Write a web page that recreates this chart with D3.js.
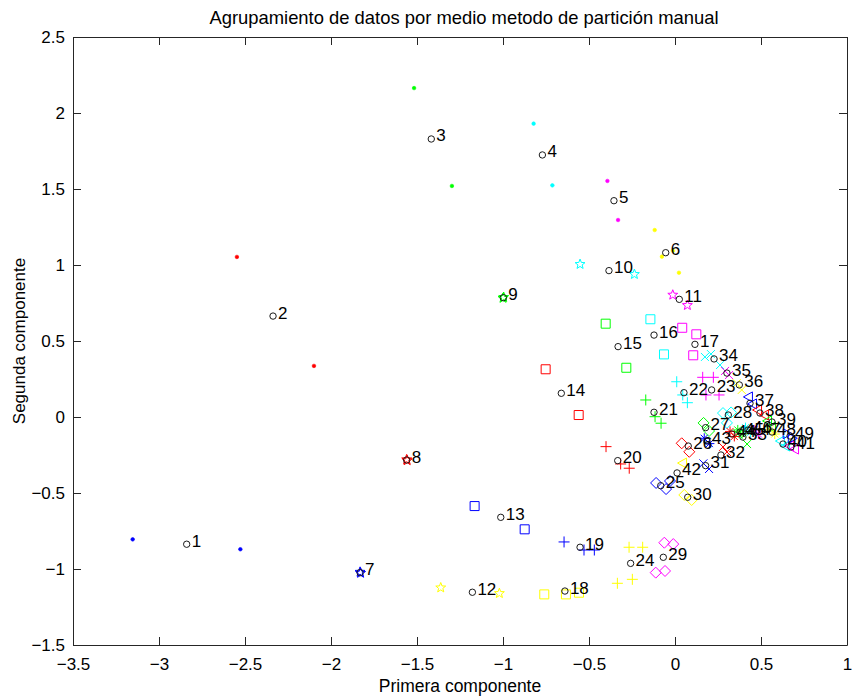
<!DOCTYPE html>
<html>
<head>
<meta charset="utf-8">
<script src="https://cdn.jsdelivr.net/npm/d3@7"></script>
<style>
  html, body { margin: 0; padding: 0; background: #fff; }
  svg { display: block; font-family: "Liberation Sans", Arial, Helvetica, sans-serif; }
</style>
</head>
<body>
<svg id="chart" width="852" height="700"></svg>
<script>
// ---- data -------------------------------------------------------------
const titleText = "Agrupamiento de datos por medio metodo de partición manual";
const xLabelText = "Primera componente";
const yLabelText = "Segunda componente";

const xTicks = [-3.5, -3, -2.5, -2, -1.5, -1, -0.5, 0, 0.5, 1];
const yTicks = [-1.5, -1, -0.5, 0, 0.5, 1, 1.5, 2, 2.5];

// group centres (black circles, numbered)
const groupIds = [1,2,3,4,5,6,7,8,9,10,11,12,13,14,15,16,17,18,19,20,21,22,23,24,25,
                  26,27,28,29,30,31,32,33,34,35,36,37,38,39,40,41,42,43,44,45,46,47,48,49];
const centreX = [-2.839,-2.337,-1.417,-0.771,-0.355,-0.054,-1.831,-1.560,-0.998,-0.384,
                 0.025,-1.178,-1.013,-0.661,-0.331,-0.122,0.116,-0.640,-0.552,-0.333,
                 -0.122,0.052,0.213,-0.258,-0.083,0.077,0.178,0.310,-0.068,0.074,
                 0.178,0.267,0.395,0.227,0.302,0.374,0.436,0.494,0.564,0.628,
                 0.674,0.012,0.186,0.331,0.378,0.424,0.471,0.564,0.669];
const centreY = [-0.837,0.664,1.829,1.724,1.423,1.081,-1.024,-0.283,0.785,0.963,
                 0.774,-1.153,-0.660,0.156,0.463,0.539,0.478,-1.145,-0.857,-0.287,
                 0.031,0.160,0.178,-0.963,-0.452,-0.191,-0.070,0.013,-0.923,-0.528,
                 -0.320,-0.250,-0.132,0.382,0.289,0.211,0.090,0.026,-0.033,-0.178,
                 -0.197,-0.368,-0.158,-0.112,-0.099,-0.086,-0.099,-0.099,-0.125];

// individual members: group id, first and second component
const memberGroup = [1,1, 2,2, 3,3, 4,4, 5,5, 6,6,6,6, 7,7, 8,8, 9,9, 10,10, 11,11, 12,12,
                     13,13, 14,14, 15,15, 16,16, 17,17,17, 18,18,18, 19,19,19, 20,20,20,
                     21,21,21, 22,22,22, 23,23,23,23, 24,24,24,24, 25,25,25, 26,26, 27,27,
                     28,28,28, 29,29,29,29, 30,30, 31,31, 32,32, 33,33, 34,34,34, 35,35,
                     36,36, 37,37, 38,38, 39,39, 40,40, 41,41, 42,
                     43,43, 44,44, 45,45, 46,46, 47,47, 48,48, 49,49];
const memberX = [-3.153,-2.527, -2.547,-2.099, -1.517,-1.297, -0.822,-0.713, -0.393,-0.331,
                 -0.118,-0.012,-0.076,0.023, -1.831,-1.828, -1.560,-1.557, -1.000,-0.996,
                 -0.552,-0.236, -0.013,0.072, -1.362,-1.021,
                 -1.165,-0.874, -0.752,-0.560, -0.403,-0.283, -0.143,-0.064,
                 0.042,0.124,0.106, -0.760,-0.634,-0.558, -0.645,-0.529,-0.469, -0.401,-0.316,-0.266,
                 -0.170,-0.116,-0.081, 0.010,0.045,0.072, 0.161,0.223,0.180,0.256,
                 -0.267,-0.188,-0.335,-0.248, -0.110,-0.052,-0.029, 0.039,0.083, 0.166,0.198,
                 0.279,0.326,0.302, -0.062,-0.010,-0.112,-0.058, 0.054,0.097, 0.165,0.198,
                 0.279,0.302, 0.366,0.419, 0.174,0.209,0.262, 0.291,0.314,
                 0.359,0.388, 0.424,0.448, 0.477,0.517, 0.535,0.558, 0.610,0.640, 0.663,0.692, 0.041,
                 0.170,0.200, 0.320,0.345, 0.365,0.390, 0.410,0.440, 0.460,0.485, 0.550,0.580, 0.655,0.685];
const memberY = [-0.805,-0.870, 1.053,0.336, 2.164,1.520, 1.930,1.524, 1.553,1.296,
                 1.230,1.094,1.055,0.949, -1.020,-1.027, -0.280,-0.286, 0.782,0.788,
                 1.005,0.939, 0.803,0.735, -1.123,-1.160,
                 -0.586,-0.739, 0.314,0.013, 0.614,0.324, 0.643,0.412,
                 0.587,0.544,0.406, -1.167,-1.167,-1.156, -0.822,-0.875,-0.875, -0.195,-0.309,-0.337,
                 0.112,0.002,-0.041, 0.232,0.145,0.094, 0.261,0.261,0.145,0.145,
                 -0.857,-0.857,-1.094,-1.068, -0.434,-0.474,-0.421, -0.173,-0.229, -0.039,-0.092,
                 0.026,0.030,-0.039, -0.827,-0.836,-1.024,-1.013, -0.513,-0.546, -0.305,-0.342,
                 -0.197,-0.230, -0.112,-0.178, 0.395,0.414,0.342, 0.303,0.276,
                 0.222,0.178, 0.132,0.086, 0.046,0.013, -0.026,-0.066, -0.158,-0.191, -0.191,-0.211, -0.303,
                 -0.140,-0.175, -0.095,-0.128, -0.085,-0.112, -0.070,-0.100, -0.085,-0.112, -0.085,-0.112, -0.110,-0.140];

// marker families (six groups each) and the colour cycle inside a family
const markerFamilies = ["point", "pentagram", "square", "plus", "diamond", "cross", "triangleLeft", "asterisk", "triangleRight"];
const colourCycle = ["#0000ff", "#ff0000", "#00ff00", "#00ffff", "#ff00ff", "#ffff00"];

// ---- layout -----------------------------------------------------------
const svg = d3.select("#chart");
const plot = { left: 73, top: 37, right: 847, bottom: 645 };

const x = d3.scaleLinear().domain([-3.5, 1]).range([plot.left, plot.right]);
const y = d3.scaleLinear().domain([-1.5, 2.5]).range([plot.bottom, plot.top]);

const axisColour = "#262626";
const tickFont = 17;

// ---- axes (box, inward ticks on all four sides) ----------------------
const gx = svg.append("g").attr("transform", `translate(0,${plot.bottom})`)
  .call(d3.axisBottom(x).tickValues(xTicks).tickSizeInner(-8).tickSizeOuter(0)
        .tickPadding(13).tickFormat(d3.format("")));
const gxTop = svg.append("g").attr("transform", `translate(0,${plot.top})`)
  .call(d3.axisTop(x).tickValues(xTicks).tickSizeInner(-8).tickSizeOuter(0).tickFormat(""));
const gy = svg.append("g").attr("transform", `translate(${plot.left},0)`)
  .call(d3.axisLeft(y).tickValues(yTicks).tickSizeInner(-8).tickSizeOuter(0)
        .tickPadding(14).tickFormat(d3.format("")));
const gyRight = svg.append("g").attr("transform", `translate(${plot.right},0)`)
  .call(d3.axisRight(y).tickValues(yTicks).tickSizeInner(-8).tickSizeOuter(0).tickFormat(""));

[gx, gxTop, gy, gyRight].forEach(g => {
  g.select(".domain").attr("stroke", axisColour).attr("stroke-width", 1);
  g.selectAll(".tick line").attr("stroke", axisColour).attr("stroke-width", 1);
  g.selectAll(".tick text").attr("fill", "#000").attr("font-size", tickFont)
    .attr("font-family", "Liberation Sans, Arial, sans-serif");
});
gy.selectAll(".tick text").attr("dx", 6);

// ---- marker shapes ----------------------------------------------------
function starPath(R, r) {
  const pts = [];
  for (let i = 0; i < 10; i++) {
    const a = -Math.PI / 2 + i * Math.PI / 5;
    const rad = i % 2 === 0 ? R : r;
    pts.push([rad * Math.cos(a), rad * Math.sin(a)]);
  }
  return "M" + pts.map(p => p[0].toFixed(2) + "," + p[1].toFixed(2)).join("L") + "Z";
}
const shapePaths = {
  pentagram: starPath(5.2, 2.2),
  square: "M-4.5,-4.5H4.5V4.5H-4.5Z",
  plus: "M-5.5,0H5.5M0,-5.5V5.5",
  diamond: "M0,-5.5L5.5,0L0,5.5L-5.5,0Z",
  cross: "M-4,-4L4,4M-4,4L4,-4",
  triangleLeft: "M-4.5,0L4.5,-5L4.5,5Z",
  triangleRight: "M4.5,0L-4.5,-5L-4.5,5Z",
  asterisk: "M-5,0H5M0,-5V5M-3.5,-3.5L3.5,3.5M-3.5,3.5L3.5,-3.5"
};

const members = memberGroup.map((g, i) => ({ g, vx: memberX[i], vy: memberY[i] }));

const markerLayer = svg.append("g");
members.forEach(m => {
  const fam = markerFamilies[Math.floor((m.g - 1) / 6)];
  const col = colourCycle[(m.g - 1) % 6];
  const px = x(m.vx), py = y(m.vy);
  if (fam === "point") {
    markerLayer.append("circle").attr("cx", px).attr("cy", py).attr("r", 1.8)
      .attr("fill", col).attr("stroke", col).attr("stroke-width", 0.6);
  } else {
    markerLayer.append("path").attr("d", shapePaths[fam])
      .attr("transform", `translate(${px},${py})`)
      .attr("fill", "none").attr("stroke", col).attr("stroke-width", 1);
  }
});

// ---- group centres and their numbers --------------------------------
const centres = groupIds.map((id, i) => ({ id, vx: centreX[i], vy: centreY[i] }));

svg.append("g").selectAll("circle").data(centres).join("circle")
  .attr("cx", d => x(d.vx)).attr("cy", d => y(d.vy)).attr("r", 3.2)
  .attr("fill", "none").attr("stroke", "#1a1a1a").attr("stroke-width", 1);

svg.append("g").selectAll("text").data(centres).join("text")
  .attr("x", d => x(d.vx) + 5).attr("y", d => y(d.vy) + 2.5)
  .attr("font-size", 17).attr("fill", "#000")
  .text(d => d.id);

// ---- titles -----------------------------------------------------------
svg.append("text").attr("x", (plot.left + plot.right) / 2 + 4).attr("y", 24)
  .attr("text-anchor", "middle").attr("font-size", 18.4).text(titleText);
svg.append("text").attr("x", (plot.left + plot.right) / 2).attr("y", 692)
  .attr("text-anchor", "middle").attr("font-size", 17.5).text(xLabelText);
svg.append("text").attr("transform", `translate(25,${(plot.top + plot.bottom) / 2}) rotate(-90)`)
  .attr("text-anchor", "middle").attr("font-size", 17).text(yLabelText);
</script>
</body>
</html>
